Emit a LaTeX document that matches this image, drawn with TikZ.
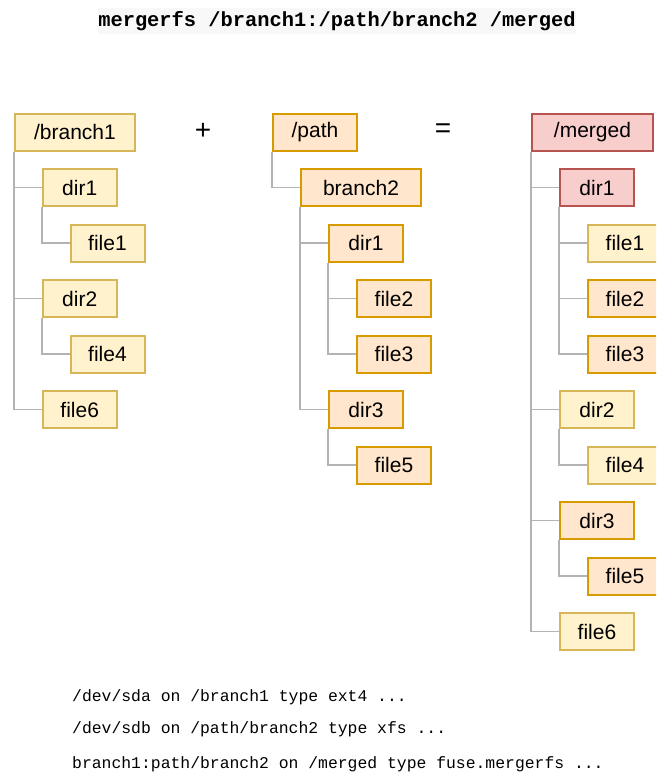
\documentclass[tikz,border=0pt]{standalone}
\usepackage{fontspec}
\setmainfont{Liberation Sans}
\newfontfamily\codefont{Liberation Mono}
\usetikzlibrary{backgrounds}
\definecolor{yfill}{HTML}{FFF2CC}\definecolor{ydraw}{HTML}{D6B656}
\definecolor{ofill}{HTML}{FFE6CC}\definecolor{odraw}{HTML}{D79B00}
\definecolor{rfill}{HTML}{F8CECC}\definecolor{rdraw}{HTML}{B85450}
\definecolor{treeline}{HTML}{B3B3B3}
\definecolor{cmdbg}{HTML}{F8F8F8}
\tikzset{
  fsbox/.style={rectangle, anchor=north west, inner sep=0pt, line width=2pt,
    minimum width=74pt, minimum height=37pt, font=\fontsize{21}{24}\selectfont},
  ybox/.style={fsbox, fill=yfill, draw=ydraw},
  obox/.style={fsbox, fill=ofill, draw=odraw},
  rbox/.style={fsbox, fill=rfill, draw=rdraw},
  conn/.style={draw=treeline, line width=1.8pt},
  op/.style={font=\fontsize{28}{30}\selectfont},
  cmdline/.style={anchor=west, inner sep=0pt, font=\codefont\fontsize{16.4}{19}\selectfont},
}
\begin{document}
\begin{tikzpicture}[x=1pt, y=-1pt]
\useasboundingbox (0,0) rectangle (656,776);
\clip (0,0) rectangle (656,776);

% command line heading
\node[fill=cmdbg, inner xsep=0pt, inner ysep=0pt, minimum height=26pt,
      font=\codefont\bfseries\fontsize{20.4}{24}\selectfont] (cmd) at (337,21)
      {mergerfs /branch1:/path/branch2 /merged};

% first branch
\node[ybox, minimum width=120pt, minimum height=37.5pt] (b1) at (14,112.5) {/branch1};
\node[ybox] (b1d1) at (41.75,168)   {dir1};
\node[ybox] (b1f1) at (69.5,223.5)  {file1};
\node[ybox] (b1d2) at (41.75,279)   {dir2};
\node[ybox] (b1f4) at (69.5,334.5)  {file4};
\node[ybox] (b1f6) at (41.75,390)   {file6};

% second branch
\node[obox, minimum width=84pt, minimum height=37.5pt] (p) at (272,112.5) {/path};
\node[obox, minimum width=120pt] (pb2) at (300,168) {branch2};
\node[obox] (pd1) at (328,223.5) {dir1};
\node[obox] (pf2) at (356,279)   {file2};
\node[obox] (pf3) at (356,334.5) {file3};
\node[obox] (pd3) at (328,390)   {dir3};
\node[obox] (pf5) at (356,445.5) {file5};

% merged view
\node[rbox, minimum width=121pt, minimum height=37.5pt] (m) at (531,112.5) {/merged};
\node[rbox] (md1) at (559,168)   {dir1};
\node[ybox] (mf1) at (587,223.5) {file1};
\node[obox] (mf2) at (587,279)   {file2};
\node[obox] (mf3) at (587,334.5) {file3};
\node[ybox] (md2) at (559,390)   {dir2};
\node[ybox] (mf4) at (587,445.5) {file4};
\node[obox] (md3) at (559,501)   {dir3};
\node[obox] (mf5) at (587,556.5) {file5};
\node[ybox] (mf6) at (559,612)   {file6};

% operators
\node[op] (plus) at (203,131) {+};
\node[op] (eq)   at (443,131) {=};

% tree connectors, behind the boxes
\begin{scope}[on background layer]
\foreach \pa/\ch in {b1/b1d1, b1/b1d2, b1/b1f6, b1d1/b1f1, b1d2/b1f4,
                     p/pb2, pb2/pd1, pb2/pd3, pd1/pf2, pd1/pf3, pd3/pf5,
                     m/md1, m/md2, m/md3, m/mf6, md1/mf1, md1/mf2, md1/mf3,
                     md2/mf4, md3/mf5}
  \draw[conn] (\pa.south west) |- (\ch.west);
\end{scope}

% mount table
\node[cmdline] (mt1) at (72,697) {/dev/sda on /branch1 type ext4 ...};
\node[cmdline] (mt2) at (72,729) {/dev/sdb on /path/branch2 type xfs ...};
\node[cmdline] (mt3) at (72,764) {branch1:path/branch2 on /merged type fuse.mergerfs ...};
\end{tikzpicture}
\end{document}
